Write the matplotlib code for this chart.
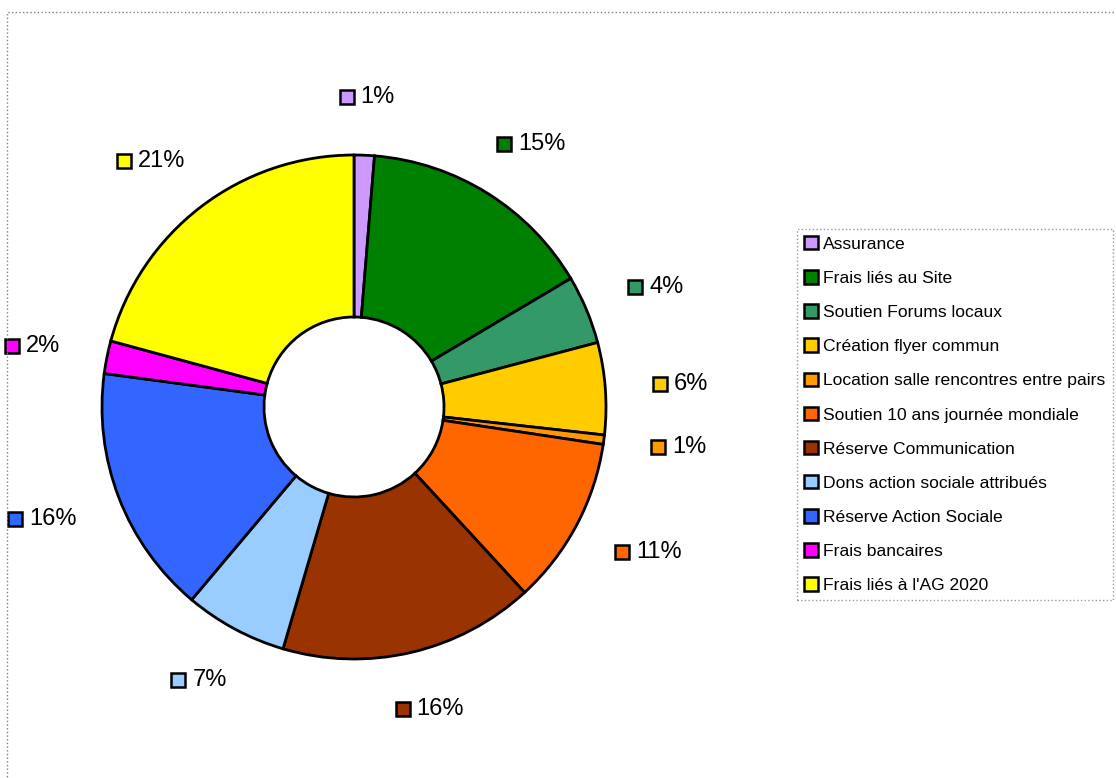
import numpy as np
import matplotlib
matplotlib.use('Agg')
import matplotlib.pyplot as plt
from matplotlib.patches import Patch, Rectangle

plt.rcParams['font.family'] = ['Liberation Sans', 'DejaVu Sans']

categories = [
    'Assurance',
    'Frais liés au Site',
    'Soutien Forums locaux',
    'Création flyer commun',
    'Location salle rencontres entre pairs',
    'Soutien 10 ans journée mondiale',
    'Réserve Communication',
    'Dons action sociale attribués',
    'Réserve Action Sociale',
    'Frais bancaires',
    "Frais liés à l'AG 2020",
]
shares = [1.3, 15.2, 4.4, 5.9, 0.6, 10.8, 16.4, 6.6, 16.0, 2.1, 20.8]
pct_labels = ['1%', '15%', '4%', '6%', '1%', '11%', '16%', '7%', '16%', '2%', '21%']
colors = ['#CC99FF', '#008000', '#339966', '#FFCC00', '#FF9900', '#FF6600',
          '#993300', '#99CCFF', '#3366FF', '#FF00FF', '#FFFF00']

W, H = 1116, 778
fig = plt.figure(figsize=(W / 100, H / 100), dpi=100)

# chart area border (dotted, runs off the right/bottom edge)
fig.patches.append(Rectangle((7 / W, -0.05), 1.2, 1 - 12 / H + 0.05, transform=fig.transFigure,
                             fill=False, ls=':', lw=1, ec='#808080'))

cx, cy, R = 354, 407, 252
half = 360
ax = fig.add_axes([(cx - half) / W, 1 - (cy + half) / H, 2 * half / W, 2 * half / H])

wedges, _ = ax.pie(shares, colors=colors, startangle=90, counterclock=False, radius=1.0,
                   wedgeprops=dict(width=1 - 90 / 252, edgecolor='black', linewidth=2))
lim = half / R
ax.set_xlim(-lim, lim)
ax.set_ylim(-lim, lim)
ax.set_aspect('equal')
ax.axis('off')

# data labels with color key squares, pushed outward like Excel does
renderer = fig.canvas.get_renderer()
total = sum(shares)
cum = 0
sq, gap, box_h = 14, 7, 20
for val, lab, col in zip(shares, pct_labels, colors):
    mid = (cum + val / 2) / total * 2 * np.pi
    cum += val
    r = 1.19
    s, c = np.sin(mid), np.cos(mid)
    t = ax.text(0, 0, lab, fontsize=17, ha='left', va='center')
    tw = t.get_window_extent(renderer).width
    box_w = sq + gap + tw
    ax_px, ay_px = ax.transData.transform((r * s, r * c))
    bx = ax_px + box_w / 2 * s
    by = ay_px + box_h / 2 * c
    left = bx - box_w / 2
    tx, ty = ax.transData.inverted().transform((left + sq + gap, by))
    t.set_position((tx, ty))
    t.set_clip_on(False)
    mx, my = ax.transData.inverted().transform((left + sq / 2, by))
    ax.plot([mx], [my], marker='s', ms=10, mfc=col, mec='black', mew=1.8, clip_on=False)

handles = [Patch(facecolor=c, edgecolor='black', linewidth=1.8) for c in colors]
leg = fig.legend(handles, categories, loc='upper left', bbox_to_anchor=(797 / W, 1 - 229 / H),
                 fontsize=12.6, frameon=True, fancybox=False, handlelength=0.8, handleheight=0.8,
                 handletextpad=0.3, labelspacing=1.05, borderpad=0.4, borderaxespad=0)
frame = leg.get_frame()
frame.set_edgecolor('#808080')
frame.set_linestyle(':')
frame.set_linewidth(1)

fig.savefig('out.png', dpi=100)
